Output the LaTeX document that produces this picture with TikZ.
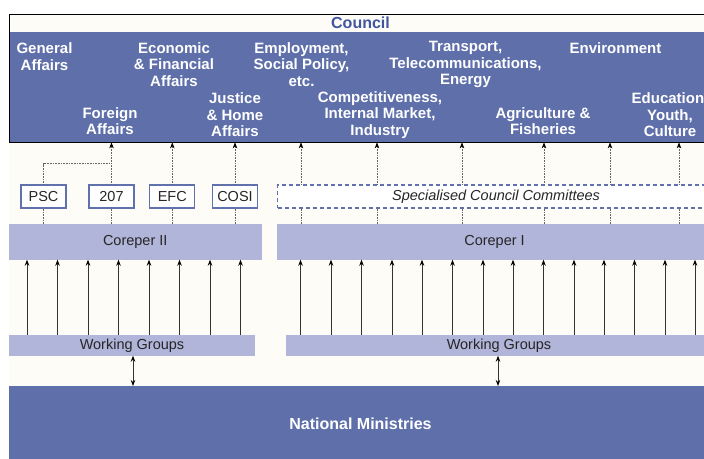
\documentclass[tikz,border=0pt]{standalone}
\usepackage{fontspec}
\setmainfont{Liberation Sans}
\usetikzlibrary{arrows.meta, positioning}
\definecolor{bandblue}{HTML}{5E6FAA}
\definecolor{paleblue}{HTML}{B1B5D9}
\definecolor{cream}{HTML}{FDFCF6}
\definecolor{headblue}{HTML}{4155A3}
\definecolor{boxline}{HTML}{6071AD}
\tikzstyle{band} = [rectangle, fill=bandblue, inner sep=0pt, text=white, font=\fontsize{16}{19}\selectfont\bfseries]
\tikzstyle{body} = [align=center, text=white, inner sep=0pt, font=\fontsize{15}{16.5}\selectfont\bfseries]
\tikzstyle{cttee} = [rectangle, draw=boxline, line width=1.1pt, fill=white, minimum width=45pt, minimum height=23pt, inner sep=0pt, text=black!85, font=\fontsize{14.5}{17}\selectfont]
\tikzstyle{pale} = [rectangle, fill=paleblue, inner sep=0pt, text=black!85, font=\fontsize{14.5}{17}\selectfont]
\tikzstyle{dotup} = [densely dotted, draw=black!60, line width=0.6pt, -{Stealth[length=6pt,width=4.5pt,black]}]
\tikzstyle{dotlink} = [densely dotted, draw=black!60, line width=0.6pt]
\tikzstyle{feed} = [draw=black!80, line width=0.8pt, -{Stealth[length=6pt,width=4.5pt,black]}]
\tikzstyle{both} = [draw=black!80, line width=0.8pt, {Stealth[length=6pt,width=4.5pt,black]}-{Stealth[length=6pt,width=4.5pt,black]}]

\begin{document}
\begin{tikzpicture}[x=1pt, y=-1pt]
  \useasboundingbox (0,0) rectangle (704,458);
  \fill[white] (0,0) rectangle (704,458);
  \fill[cream] (9,142) rectangle (712,386);

  % council block
  \node (head) [rectangle, fill=cream, minimum width=703pt, minimum height=18pt, inner sep=0pt,
        anchor=north west, text=headblue, font=\fontsize{16}{19}\selectfont\bfseries] at (9,14) {};
  \node at (360.5,23) {\color{headblue}\fontsize{16}{19}\selectfont\bfseries Council};
  \node (council) [band, minimum width=703pt, minimum height=110pt, anchor=north west] at (9,32) {};
  \draw [line width=0.9pt] (head.north east) -- (head.north west) -- (council.south west) -- (council.south east);

  \node (genaff) [body] at (44.5,56.5) {General\\Affairs};
  \node (ecfin) [body] at (174,64.5) {Economic\\\& Financial\\Affairs};
  \node (empl) [body] at (301.5,64.5) {Employment,\\Social Policy,\\etc.};
  \node (transp) [body] at (465.5,64.5) {Transport,\\Telecommunications,\\Energy};
  \node (envi) [body] at (615.5,48) {Environment};
  \node (foraff) [body] at (110,121) {Foreign\\Affairs};
  \node (jha) [body] at (235,115) {Justice\\\& Home\\Affairs};
  \node (compet) [body] at (380,115) {Competitiveness,\\Internal Market,\\Industry};
  \node (agri) [body] at (543,121) {Agriculture \&\\Fisheries};
  \node (educ) [body] at (670,115) {Education,\\Youth,\\Culture};

  % committees
  \node (psc) [cttee] at (43.5,196.5) {PSC};
  \node (c207) [cttee] at (111.5,196.5) {207};
  \node (efc) [cttee] at (172.3,196.5) {EFC};
  \node (cosi) [cttee, minimum width=45.5pt] at (235,196.5) {COSI};
  \node (spec) [cttee, dashed, dash pattern=on 4pt off 3pt, minimum width=437pt, anchor=west,
        font=\fontsize{14.5}{17}\selectfont\itshape] at (277,196.5) {Specialised Council Committees};

  \node (corII) [pale, minimum width=252.5pt, minimum height=35.5pt] at (135.25,241.75) {Coreper II};
  \node (corI) [pale, minimum width=435pt, minimum height=35.5pt] at (494.5,241.75) {Coreper I};
  \node (wgII) [pale, minimum width=246pt, minimum height=20.5pt] at (132,345.25) {Working Groups};
  \node (wgI) [pale, minimum width=426pt, minimum height=20.5pt] at (499,345.25) {Working Groups};
  \node (nat) [band, minimum width=703pt, minimum height=74pt, anchor=north west] at (9,386) {};
  \node at (360.5,424) {\color{white}\fontsize{16}{19}\selectfont\bfseries National Ministries};

  \coordinate (pscjoin) at (111.5,163.5);
  \draw [dotlink] (psc.north) |- (pscjoin);
  \draw [dotup] (c207.north) -- (council.south -| c207.north);
  \draw [dotup] (efc.north) -- (council.south -| efc.north);
  \draw [dotup] (cosi.north) -- (council.south -| cosi.north);
  \draw [dotup] (spec.north -| 301,0) -- (council.south -| 301,0);
  \draw [dotup] (spec.north -| 377,0) -- (council.south -| 377,0);
  \draw [dotup] (spec.north -| 462,0) -- (council.south -| 462,0);
  \draw [dotup] (spec.north -| 544,0) -- (council.south -| 544,0);
  \draw [dotup] (spec.north -| 610,0) -- (council.south -| 610,0);
  \draw [dotup] (spec.north -| 679,0) -- (council.south -| 679,0);

  \draw [dotlink] (corII.north -| psc.south) -- (psc.south);
  \draw [dotlink] (corII.north -| c207.south) -- (c207.south);
  \draw [dotlink] (corII.north -| efc.south) -- (efc.south);
  \draw [dotlink] (corII.north -| cosi.south) -- (cosi.south);
  \draw [dotlink] (corI.north -| 301,0) -- (spec.south -| 301,0);
  \draw [dotlink] (corI.north -| 377,0) -- (spec.south -| 377,0);
  \draw [dotlink] (corI.north -| 462,0) -- (spec.south -| 462,0);
  \draw [dotlink] (corI.north -| 544,0) -- (spec.south -| 544,0);
  \draw [dotlink] (corI.north -| 610,0) -- (spec.south -| 610,0);
  \draw [dotlink] (corI.north -| 679,0) -- (spec.south -| 679,0);

  \foreach \x in {27,57.5,88,118.5,149,179.5,210,240.5}
    \draw [feed] (wgII.north -| \x,0) -- (corII.south -| \x,0);
  \foreach \x in {300.5,331,361.5,392,422,452.5,483,513,543.5,574,604,634.5,665,695}
    \draw [feed] (wgI.north -| \x,0) -- (corI.south -| \x,0);

  \draw [both] (wgII.south -| 133,0) -- (nat.north -| 133,0);
  \draw [both] (wgI.south -| 498,0) -- (nat.north -| 498,0);
\end{tikzpicture}
\end{document}
